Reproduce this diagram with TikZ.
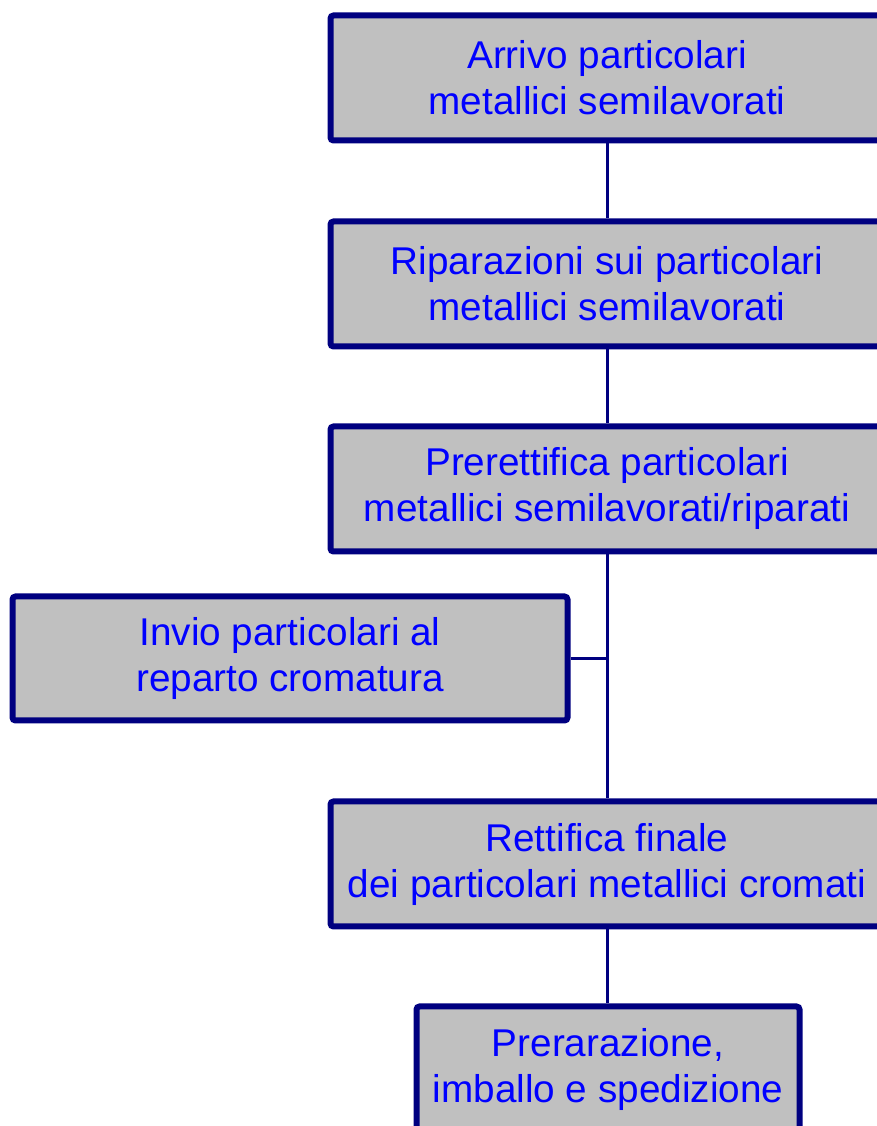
\documentclass[tikz,border=0pt]{standalone}
\usepackage{fontspec}
\setmainfont{Liberation Sans}
\definecolor{boxline}{RGB}{0,0,128}
\definecolor{boxfill}{RGB}{192,192,192}
\definecolor{boxtext}{RGB}{0,0,255}

\begin{document}
\begin{tikzpicture}[x=1pt, y=1pt,
		phase/.style={draw=boxline, fill=boxfill, line width=6pt, rounded corners=3pt,
			minimum width=553pt, minimum height=125pt, align=center, inner sep=0pt,
			text=boxtext, font=\fontsize{38.7}{46}\selectfont},
		link/.style={draw=boxline, line width=3pt}]
		\useasboundingbox (0, 0) rectangle (877, 1126);
		\clip (0, 0) rectangle (877, 1126);
		
		\node[phase] (arrivo) at (607, 1048) {Arrivo particolari\\metallici semilavorati};
		\node[phase] (riparazioni) at (607, 842) {Riparazioni sui particolari\\metallici semilavorati};
		\node[phase] (prerettifica) at (607, 637) {Prerettifica particolari\\metallici semilavorati/riparati};
		\node[phase, minimum width=555pt, minimum height=124pt] (invio) at (290, 467.5) {Invio particolari al\\reparto cromatura};
		\node[phase] (rettifica) at (607, 262) {Rettifica finale\\dei particolari metallici cromati};
		\node[phase, minimum width=383pt] (spedizione) at (608, 57) {Prerarazione,\\imballo e spedizione};
		
		\coordinate (nodo) at (invio.east -| prerettifica.south);
		
		\draw[link] (arrivo) -- (riparazioni);
		\draw[link] (riparazioni) -- (prerettifica);
		\draw[link] (prerettifica) -- (rettifica);
		\draw[link] (invio) -- (nodo);
		\draw[link] (rettifica) -- (rettifica.south |- spedizione.north);
	\end{tikzpicture}
\end{document}
